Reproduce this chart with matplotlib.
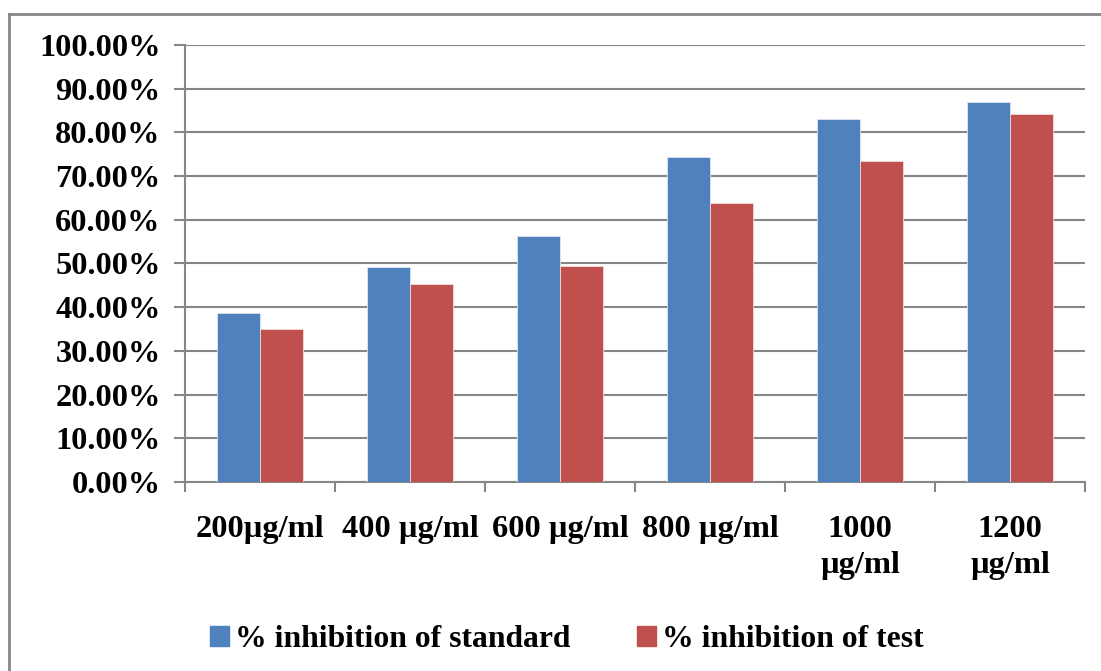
import numpy as np
import matplotlib
matplotlib.use("Agg")
from matplotlib import pyplot as plt
from matplotlib.lines import Line2D
from matplotlib.ticker import FuncFormatter, MultipleLocator

categories = ["200µg/ml", "400 µg/ml", "600 µg/ml", "800 µg/ml", "1000\nµg/ml", "1200\nµg/ml"]
standard = [38.7, 49.3, 56.3, 74.3, 83.1, 86.9]
test = [34.9, 45.3, 49.5, 63.8, 73.4, 84.1]
series_names = ["% inhibition of standard", "% inhibition of test"]

blue = "#4F81BD"
red = "#C0504D"
grey = "#868686"
fs = 23.3

plt.rcParams['font.family'] = ['Liberation Serif', 'DejaVu Serif']
plt.rcParams['font.weight'] = 'bold'

fig = plt.figure(figsize=(11.01, 6.71), dpi=100)
ax = fig.add_axes([0.168, 0.2817, 0.8175, 0.6513])

x = np.arange(len(categories))
w = 0.286
ax.bar(x - w / 2, standard, w, color=blue, edgecolor="#dce6f2", linewidth=0.6, zorder=3)
ax.bar(x + w / 2, test, w, color=red, edgecolor="#f2dcdb", linewidth=0.6, zorder=3)

ax.set_xlim(-0.5, len(categories) - 0.5)
ax.set_ylim(0, 100)
ax.yaxis.set_major_locator(MultipleLocator(10))
ax.yaxis.set_major_formatter(FuncFormatter(lambda v, p: "%.2f%%" % v))
ax.grid(axis='y', color=grey, linewidth=1.5, zorder=0)

ax.set_xticks(np.arange(-0.5, len(categories), 1.0))
ax.set_xticklabels([])
ax.set_xticks(x, minor=True)
ax.set_xticklabels(categories, minor=True, fontsize=fs, fontweight='bold', linespacing=1.32, va='top')
ax.tick_params(axis='x', which='minor', length=0, pad=24)
ax.tick_params(axis='x', which='major', length=7, width=1.5, color=grey, direction='out')
ax.tick_params(axis='y', length=8, width=1.5, color=grey, labelsize=fs, pad=9.5)
for lab in ax.get_yticklabels():
    lab.set_fontweight('bold')

for s in ['top', 'right']:
    ax.spines[s].set_visible(False)
for s in ['left', 'bottom']:
    ax.spines[s].set_color(grey)
    ax.spines[s].set_linewidth(1.5)

# legend
handles = [plt.Rectangle((0, 0), 1, 1, color=blue), plt.Rectangle((0, 0), 1, 1, color=red)]
fig.legend(handles, series_names, loc='center', bbox_to_anchor=(0.515, 0.047), ncol=2, frameon=False,
           prop={'size': 22.8, 'weight': 'bold'}, handlelength=0.6, handleheight=0.6,
           handletextpad=0.2, columnspacing=2.1)

# chart area border
W, H = 1101, 671
fig.add_artist(Line2D([9 / W, 9 / W], [0, 1 - 14 / H], color=grey, linewidth=2, transform=fig.transFigure))
fig.add_artist(Line2D([9 / W, 1], [1 - 14 / H, 1 - 14 / H], color=grey, linewidth=2, transform=fig.transFigure))

fig.savefig("out.png", dpi=100)
